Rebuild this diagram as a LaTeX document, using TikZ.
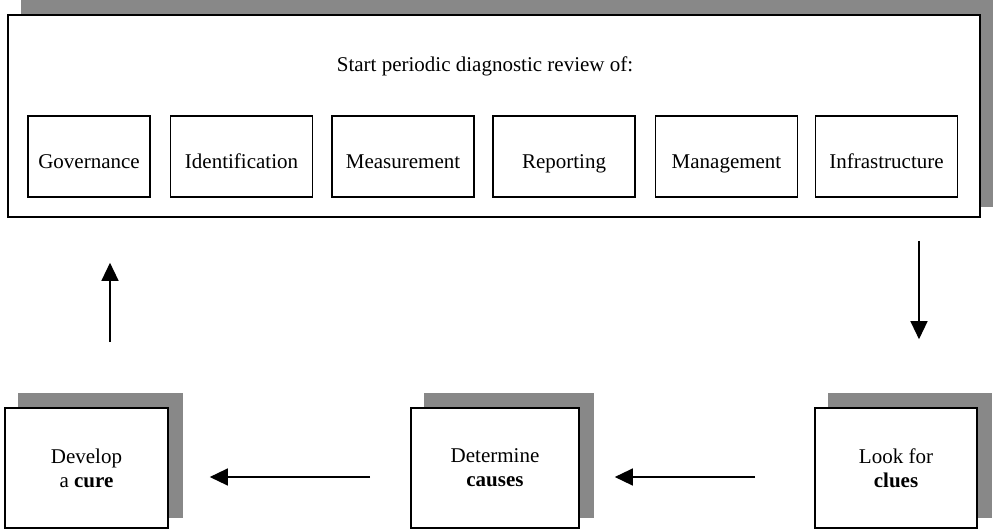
\documentclass[tikz,border=0pt]{standalone}
\usepackage{fontspec}
\setmainfont{Liberation Serif}
\usetikzlibrary{arrows.meta,backgrounds}
\definecolor{shadowgray}{HTML}{888888}
\begin{document}
\begin{tikzpicture}[x=1pt,y=-1pt,
  every node/.style={font=\fontsize{21}{24}\selectfont},
  frame/.style={draw,line width=1.6pt,fill=white,inner sep=0pt},
  area/.style={frame,minimum width=142pt,minimum height=81pt,text height=24pt,text depth=1pt},
  stage/.style={frame,minimum height=120pt,align=center},
  dropshade/.style={fill=shadowgray,draw=none},
  flow/.style={line width=1.3pt,-{Triangle[length=18pt,width=17pt]}}
]
\useasboundingbox (0,0) rectangle (993,530);

% review panel with its six areas
\node[frame,minimum width=972pt,minimum height=202pt] (main) at (494,116) {};
\node[anchor=base] (title) at (485,71) {Start periodic diagnostic review of:};
\node[area,minimum width=122pt] (gov) at (89,156.5) {Governance};
\node[area] (ident) at (241.5,156.5) {Identification};
\node[area] (meas) at (403,156.5) {Measurement};
\node[area] (rep) at (564,156.5) {Reporting};
\node[area] (mgmt) at (726.5,156.5) {Management};
\node[area] (infra) at (886.5,156.5) {Infrastructure};

% the three steps of the cycle
\node[stage,minimum width=163pt] (cure) at (86.5,468) {Develop\\a \textbf{cure}};
\node[stage,minimum width=168pt] (causes) at (495,468) {Determine\\\textbf{causes}};
\node[stage,minimum width=162pt] (clues) at (896,468) {Look for\\\textbf{clues}};

% drop shadows behind the boxes
\begin{scope}[on background layer]
  \foreach \n in {main,cure,causes,clues}
    \fill[dropshade] ([xshift=14pt,yshift=14pt]\n.north west) rectangle ([xshift=14pt,yshift=11pt]\n.south east);
\end{scope}

% arrows around the cycle
\draw[flow,shorten <=23pt,shorten >=68pt] ([xshift=23pt]main.south -| clues.north) -- ([xshift=23pt]clues.north);
\draw[flow,shorten <=59pt,shorten >=35pt] ([yshift=-9pt]clues.west) -- ([yshift=-9pt]causes.east);
\draw[flow,shorten <=40pt,shorten >=41pt] ([yshift=-9pt]causes.west) -- ([yshift=-9pt]cure.east);
\draw[flow,shorten <=65pt,shorten >=45pt] ([xshift=23.5pt]cure.north) -- ([xshift=23.5pt]main.south -| cure.north);
\end{tikzpicture}
\end{document}
